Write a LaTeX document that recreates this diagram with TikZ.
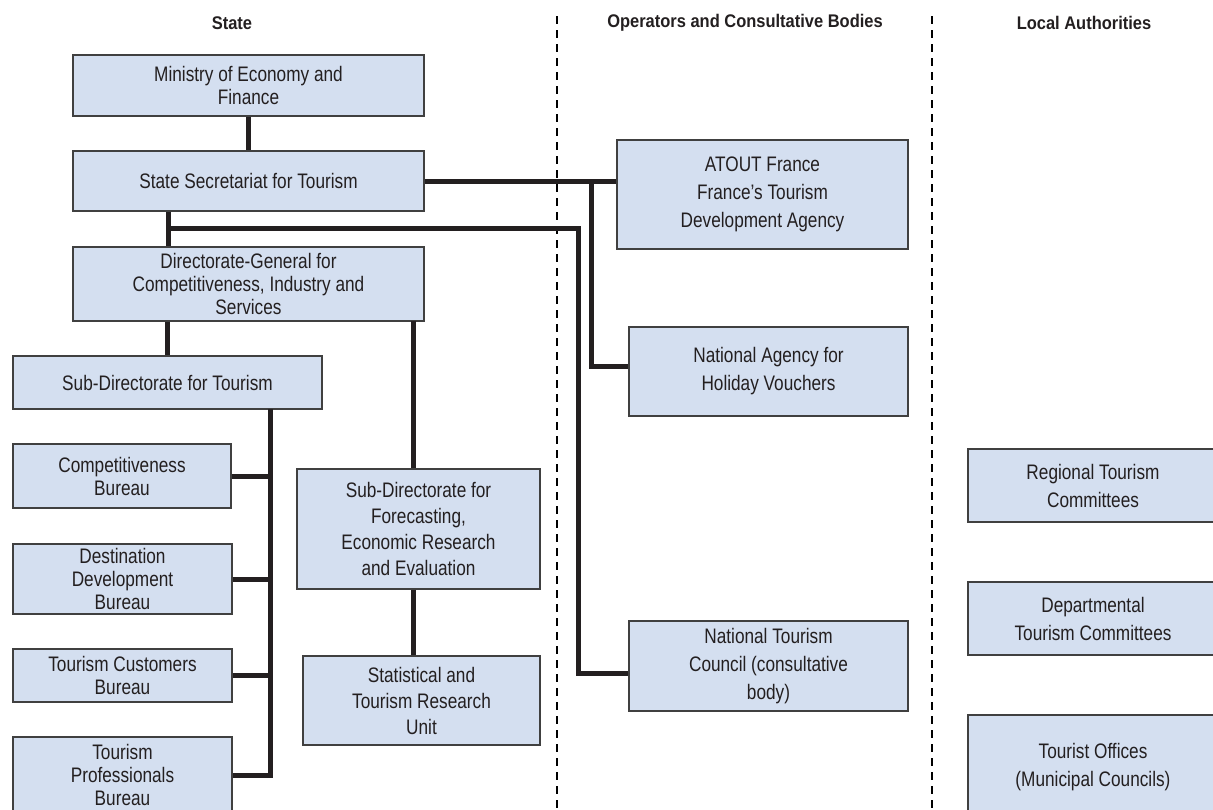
\documentclass[tikz,border=0pt]{standalone}
\usepackage{fontspec}
\setmainfont{Liberation Sans}[FakeStretch=0.82]
\newfontfamily\headfont{Liberation Sans}[FakeStretch=0.9]
\definecolor{boxblue}{RGB}{212,223,240}
\definecolor{linkgray}{RGB}{35,31,32}

\begin{document}
\begin{tikzpicture}[x=1pt, y=-1pt,
    org/.style={draw=black!75, fill=boxblue, line width=1.3pt, align=center, inner sep=0pt, text=linkgray, font=\fontsize{21}{23}\selectfont},
    midbox/.style={org, font=\fontsize{21}{26}\selectfont},
    opbox/.style={org, font=\fontsize{21}{28}\selectfont},
    link/.style={draw=linkgray, line width=5pt},
    sep/.style={draw=black, line width=2.3pt, dash pattern=on 8pt off 6pt},
    head/.style={text=linkgray, font=\headfont\bfseries\fontsize{18.3}{20}\selectfont},
]
\useasboundingbox (0,0) rectangle (1213,809);

% column separators and headings
\draw[sep] (557,16) -- (557,809);
\draw[sep] (932,16) -- (932,809);
\node[head] (hstate) at (232,23) {State};
\node[head] (hops) at (745,23) {Operators and Consultative Bodies};
\node[head] (hlocal) at (1084,23) {Local Authorities};

% State
\node[org, minimum width=351, minimum height=61] (min) at (248.5,85.5) {Ministry of Economy and\\Finance};
\node[org, minimum width=351, minimum height=60] (sec) at (248.5,181) {State Secretariat for Tourism};
\node[org, minimum width=351, minimum height=74] (dg) at (248.5,284) {Directorate-General for\\Competitiveness, Industry and\\Services};
\node[org, minimum width=309, minimum height=53] (sub) at (167.5,382.5) {Sub-Directorate for Tourism};
\node[org, minimum width=218, minimum height=64] (comp) at (122,476) {Competitiveness\\Bureau};
\node[org, minimum width=219, minimum height=70] (dest) at (122.5,579) {Destination\\Development\\Bureau};
\node[org, minimum width=219, minimum height=53] (cust) at (122.5,675.5) {Tourism Customers\\Bureau};
\node[org, minimum width=219, minimum height=76] (prof) at (122.5,775) {Tourism\\Professionals\\Bureau};
\node[midbox, minimum width=243, minimum height=120] (fc) at (418.5,529) {Sub-Directorate for\\Forecasting,\\Economic Research\\and Evaluation};
\node[midbox, minimum width=237, minimum height=89] (stat) at (421.5,700.5) {Statistical and\\Tourism Research\\Unit};

% Operators and consultative bodies
\node[opbox, minimum width=291, minimum height=109] (atout) at (762.5,194.5) {ATOUT France\\France’s Tourism\\Development Agency};
\node[opbox, minimum width=279, minimum height=89] (nav) at (768.5,371.5) {National Agency for\\Holiday Vouchers};
\node[opbox, minimum width=279, minimum height=90] (ntc) at (768.5,666) {National Tourism\\Council (consultative\\body)};

% Local authorities
\node[opbox, minimum width=250, minimum height=73] (reg) at (1093,485.5) {Regional Tourism\\Committees};
\node[opbox, minimum width=250, minimum height=73] (dep) at (1093,618.5) {Departmental\\Tourism Committees};
\node[opbox, minimum width=250, minimum height=104] (off) at (1093,767) {Tourist Offices\\(Municipal Councils)};

% links
\coordinate (j1) at (168,228);
\coordinate (j2) at (578,228);
\coordinate (j3) at (591.5,181);
\coordinate (j4) at (413,321);
\coordinate (j5) at (270,409);
\draw[link] (min) -- (sec);
\draw[link] (sec.south -| j1) -- (dg.north -| j1);
\draw[link] (sub.north |- dg.south) -- (sub.north);
\draw[link] (sec.east) -- (atout.west |- sec.east);
\draw[link] (j3) |- ([yshift=5pt]nav.west);
\draw[link] (j1) -- (j2) |- ([yshift=-7pt]ntc.west);
\draw[link] (j4) -- (j4 |- fc.north);
\draw[link] (j4 |- fc.south) -- (j4 |- stat.north);
\draw[link] (j5) |- (prof.east);
\draw[link] (comp.east) -- (comp.east -| j5);
\draw[link] (dest.east) -- (dest.east -| j5);
\draw[link] (cust.east) -- (cust.east -| j5);
\end{tikzpicture}
\end{document}
